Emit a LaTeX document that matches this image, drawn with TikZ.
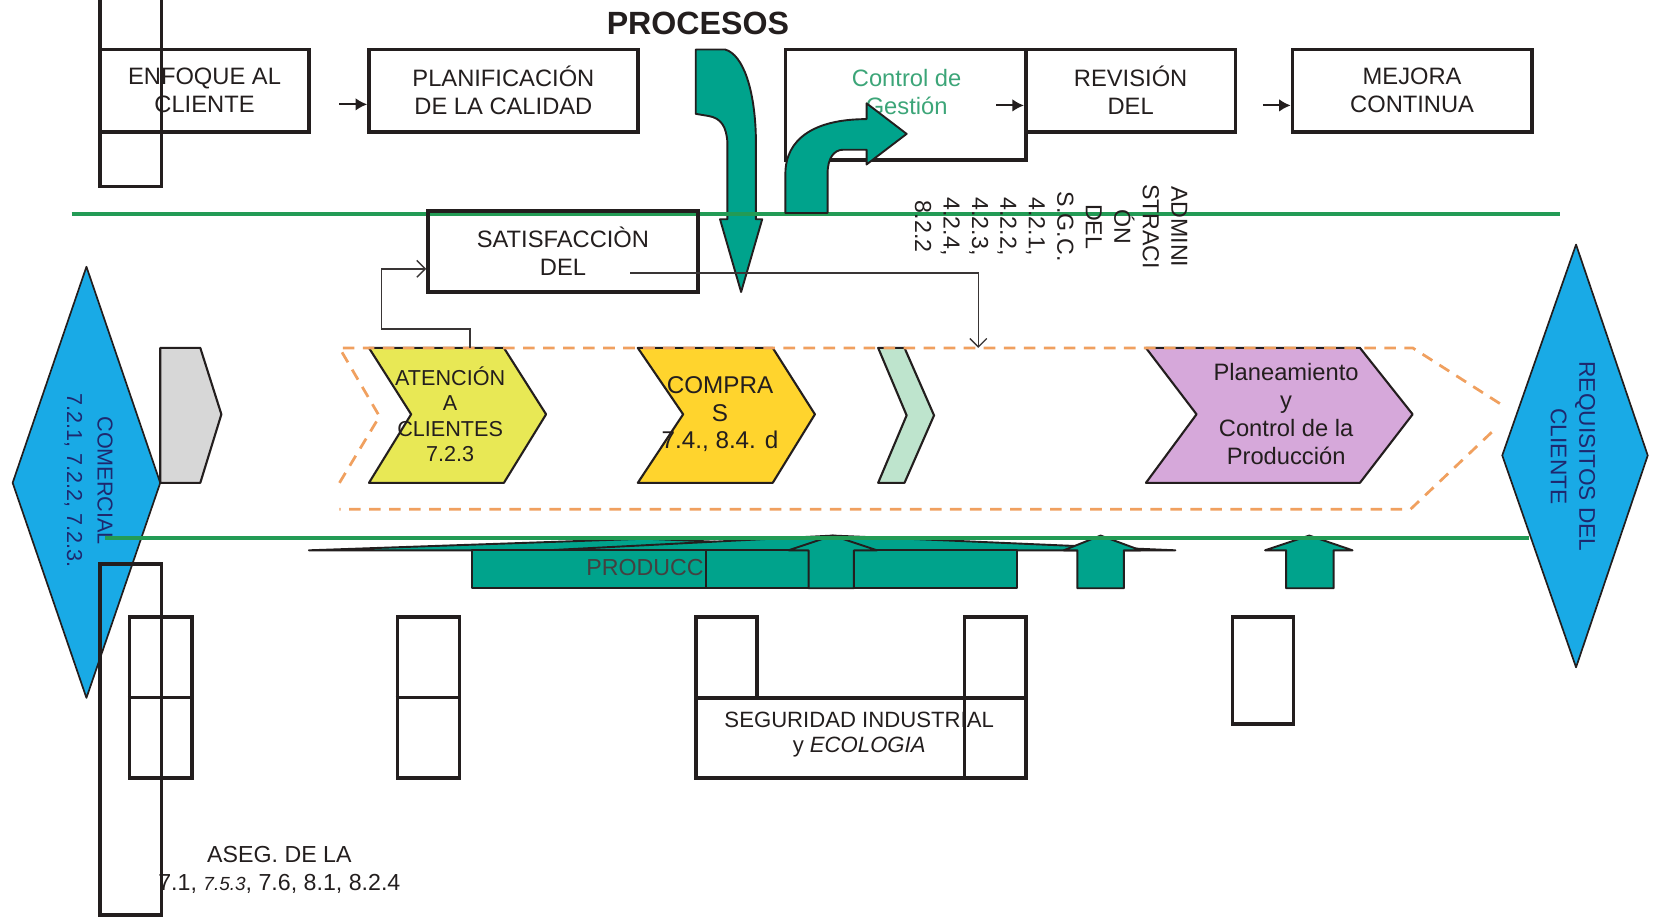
\documentclass[tikz,border=0pt]{standalone}
\usepackage{fontspec}
\setmainfont{Liberation Sans}
\usetikzlibrary{arrows.meta}

\definecolor{ink}{RGB}{35,30,30}
\definecolor{teal1}{RGB}{0,163,140}
\definecolor{gline}{RGB}{35,155,85}
\definecolor{gtext}{RGB}{60,165,120}
\definecolor{skyb}{RGB}{25,170,230}
\definecolor{navy}{RGB}{30,40,110}
\definecolor{yel}{RGB}{232,232,85}
\definecolor{gold}{RGB}{255,212,45}
\definecolor{mint}{RGB}{190,228,205}
\definecolor{lav}{RGB}{214,168,218}
\definecolor{gray1}{RGB}{215,215,215}
\definecolor{orng}{RGB}{240,160,95}

\newcommand\myfs[2]{\fontsize{#1}{#2}\selectfont}

\begin{document}
\begin{tikzpicture}[x=1pt,y=-1pt,
  box/.style={draw=ink,line width=3.4pt,inner sep=0pt,align=center,text=ink,font=\myfs{22.5}{26.5}},
  frame/.style={draw=ink,line width=3.4pt,inner sep=0pt},
  txt/.style={inner sep=0pt,align=center,text=ink},
  vtext/.style={inner sep=0pt,align=center,rotate=-90},
  stub/.style={draw=ink,line width=1.8pt,-{Latex[length=11pt,width=12pt]}},
  fb/.style={draw=ink!90,line width=1.3pt,-{Straight Barb[length=8pt,width=16pt]}},
  arr/.style={fill=teal1,draw=ink,line width=1.8pt,line join=round},
  dia/.style={fill=skyb,draw=ink,line width=1.6pt,line join=round},
  chev/.style={draw=ink,line width=2pt,line join=round},
  orangeline/.style={draw=orng,line width=2.6pt,dash pattern=on 11pt off 8pt},
  gl/.style={draw=gline,line width=3.6pt},
]
\useasboundingbox (0,0) rectangle (1568,870);

% --- client diamonds ---
\path[dia] (82,253) -- (152,458) -- (82,662) -- (12,458) -- cycle;
\path[dia] (1495,232) -- (1563,432) -- (1495,633) -- (1425,432) -- cycle;
\node[vtext,text=navy,font=\myfs{20.5}{29}] (comTxt) at (84,456) {COMERCIAL\\7.2.1, 7.2.2, 7.2.3.};
\node[vtext,text=navy,font=\myfs{21.5}{27}] (reqTxt) at (1492,433) {REQUISITOS DEL\\CLIENTE};

% --- process chevrons ---
\path[chev,fill=gray1] (152,330) -- (190,330) -- (210,393) -- (190,458) -- (152,458) -- cycle;
\path[chev,fill=yel] (350,330) -- (478,330) -- (518,393) -- (478,458) -- (350,458) -- (390,393) -- cycle;
\path[chev,fill=gold] (605,330) -- (733,330) -- (773,393) -- (733,458) -- (605,458) -- (648,393) -- cycle;
\path[chev,fill=mint] (833,330) -- (858,330) -- (886,394) -- (858,458) -- (833,458) -- (860,394) -- cycle;
\path[chev,fill=lav] (1087,330) -- (1290,330) -- (1340,393) -- (1290,458) -- (1087,458) -- (1135,393) -- cycle;
\coordinate (atTop) at (446,330);

\node[txt,font=\myfs{20.5}{24}] (atencion) at (427,393) {ATENCIÓN\\A\\CLIENTES\\7.2.3};
\node[txt,font=\myfs{23}{26}] (compras) at (683,393) {COMPRA\\S\\7.4., 8.4. d};
\node[txt,font=\myfs{22.5}{26.5}] (planeam) at (1220,393) {Planeamiento\\y\\Control de la\\Producción};

% --- dashed process envelope ---
\draw[orangeline] (322,458) -- (360,395) -- (322,330) -- (1340,330) -- (1423,383);
\draw[orangeline] (1415,410) -- (1338,483) -- (322,483);

% --- production arrows ---
\path[arr] (293,522) -- (612,511) -- (870,522) -- cycle;
\path[arr] (519,522) -- (790,508) -- (1115,522) -- cycle;
\path[arr] (448,522) rectangle (670,558);
\node[txt,anchor=west,text=ink!85,font=\myfs{22}{26}] (prodTxt) at (556,538) {PRODUCC};
\path[arr] (670,522) rectangle (965,558);
\path[arr] (767,558) -- (767,522) -- (748,522) -- (790,508) -- (832,522) -- (810,522) -- (810,558) -- cycle;
\path[arr] (1022,558) -- (1022,522) -- (1009,522) -- (1044,508) -- (1082,522) -- (1066,522) -- (1066,558) -- cycle;
\path[arr] (1220,558) -- (1220,522) -- (1200,522) -- (1242,508) -- (1283,522) -- (1265,522) -- (1265,558) -- cycle;

% --- down arrow from the title ---
\path[arr] (660,47) -- (688,47) .. controls (705,52) and (716,85) .. (717,130) -- (717,208) -- (723,208) -- (703,277) -- (683,208) -- (690,208) -- (690,135) .. controls (689,120) and (684,112) .. (672,110) -- (660,108) -- cycle;

% --- green band lines ---
\draw[gl] (68,203) -- (1480,203);
\draw[gl] (100,510) -- (1450,510);

% --- top row boxes ---
\node[frame,minimum width=58pt,minimum height=180pt] (colTop) at (124,87) {};
\node[box,minimum width=198pt,minimum height=78pt] (enfoque) at (194,86) {ENFOQUE AL\\CLIENTE};
\node[box,minimum width=255pt,minimum height=78pt] (plan) at (477.5,86) {PLANIFICACIÓN\\DE LA CALIDAD};
\node[box,minimum width=228pt,minimum height=105pt] (control) at (859,99.5) {};
\node[txt,text=gtext,font=\myfs{22.5}{26.5}] (controlTxt) at (860,87) {Control de\\Gestión};
\node[box,minimum width=199pt,minimum height=78pt] (revision) at (1072.5,86) {REVISIÓN\\DEL};
\node[box,minimum width=227pt,minimum height=78pt] (mejora) at (1339.5,86) {MEJORA\\CONTINUA};
\node[txt,font=\myfs{30.5}{34}\bfseries] (procesos) at (662,22) {PROCESOS};

\coordinate (s1) at (322,99);
\coordinate (s2) at (945,100);
\coordinate (s3) at (1198,100);
\draw[stub] (s1) -- (s1 -| plan.west);
\draw[stub] (s2) -- (s2 -| revision.west);
\draw[stub] (s3) -- (s3 -| mejora.west);

% --- curved arrow into management control ---
\path[arr] (745,202) -- (745,165) .. controls (745,132) and (772,113) .. (822,113) -- (822,98) -- (860,127) -- (822,156) -- (822,142) -- (800,142) .. controls (791,142) and (785,150) .. (785,165) -- (785,202) -- cycle;

% --- satisfaction box and its loop ---
\node[box,minimum width=256pt,minimum height=77pt] (satisf) at (534,238.5) {SATISFACCIÒN\\DEL};
\coordinate (satIn) at (satisf.west |- 0,255);
\coordinate (satOut) at (598,259);
\coordinate (dropIn) at (928,330);
\draw[fb] (atTop) |- (362,312) |- (satIn);
\draw[fb] (satOut) -| (dropIn);

\node[vtext,text=ink,font=\myfs{22}{27}] (admTxt) at (997,215) {ADMINI\\STRACI\\ÓN\\DEL\\S.G.C.\\4.2.1,\\4.2.2,\\4.2.3,\\4.2.4,\\8.2.2};

% --- support area frames ---
\node[frame,minimum width=58pt,minimum height=333pt] (colL) at (124,701.5) {};
\node[frame,minimum width=59pt,minimum height=153pt] (gridL) at (152.5,661.5) {};
\draw[frame] (gridL.west) -- (gridL.east);
\node[frame,minimum width=59pt,minimum height=153pt] (colM) at (406.5,661.5) {};
\draw[frame] (colM.west) -- (colM.east);
\node[frame,minimum width=58pt,minimum height=77pt] (segTL) at (689,623.5) {};
\node[frame,minimum width=58pt,minimum height=153pt] (segTR) at (944,661.5) {};
\node[frame,minimum width=313pt,minimum height=76pt] (segBase) at (816.5,700) {};
\node[frame,minimum width=58pt,minimum height=102pt] (colR) at (1198,636) {};

\node[txt,font=\myfs{21}{23.5}] (segTxt) at (815,697) {SEGURIDAD INDUSTRIAL\\y \textit{ECOLOGIA}};
\node[txt,font=\myfs{22}{27}] (aseg) at (265,825) {ASEG. DE LA\\7.1, {\myfs{18}{27}\itshape 7.5.3}, 7.6, 8.1, 8.2.4};

\end{tikzpicture}
\end{document}
